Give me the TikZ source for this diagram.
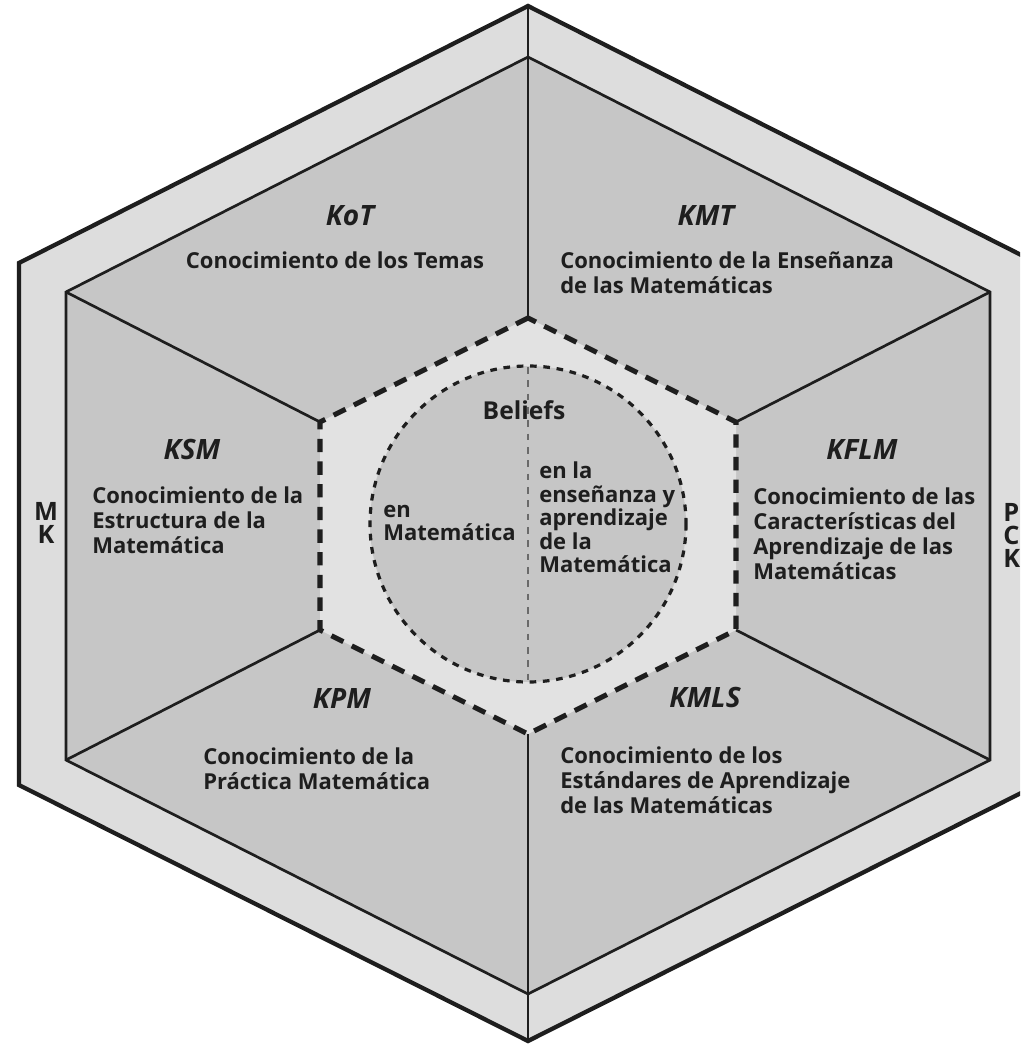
\documentclass[tikz,border=0pt]{standalone}
\usepackage{fontspec}
\setmainfont{Open Sans}
\definecolor{band}{HTML}{DDDDDD}
\definecolor{panel}{HTML}{C6C6C6}
\definecolor{core}{HTML}{E2E2E2}
\definecolor{ink}{HTML}{1E1E1E}
\definecolor{midgray}{HTML}{6A6A6A}
\begin{document}
\begin{tikzpicture}[x=0.75pt,y=-0.75pt,
  body/.style={font=\fontsize{16.5}{18.75}\selectfont\bfseries, text=ink, inner sep=0pt, align=left},
  head/.style={font=\fontsize{21}{24}\selectfont\bfseries\itshape, text=ink, inner sep=0pt},
  side/.style={font=\fontsize{19}{17.25}\selectfont\bfseries, text=ink, inner sep=0pt},
  hexline/.style={line width=2pt, draw=ink},
  outerline/.style={line width=3.2pt, draw=ink, line join=miter},
  corehex/.style={fill=core, draw=ink, line width=3.8pt, dash pattern=on 10pt off 7pt},
  corecircle/.style={fill=panel, draw=ink, line width=2.4pt, dash pattern=on 5pt off 5pt},
  splitline/.style={draw=midgray, line width=1.6pt, dash pattern=on 5pt off 5pt}]
\useasboundingbox (0,0) rectangle (1020,1044);
\fill[white] (0,0) rectangle (1020,1044);
\clip (0,0) rectangle (1020,1044);
% outer hexagon vertices
\coordinate (oT) at (528,6);
\coordinate (oUL) at (19,263);
\coordinate (oLL) at (19,785);
\coordinate (oB) at (528,1041);
\coordinate (oLR) at (1037,785);
\coordinate (oUR) at (1037,263);
% inner hexagon vertices
\coordinate (iT) at (528,57);
\coordinate (iUL) at (66,292);
\coordinate (iLL) at (66,760);
\coordinate (iB) at (528,994);
\coordinate (iLR) at (990,760);
\coordinate (iUR) at (990,292);
% core (dashed) hexagon vertices
\coordinate (cT) at (528,318);
\coordinate (cUL) at (320,422);
\coordinate (cLL) at (320,630);
\coordinate (cB) at (528,734);
\coordinate (cLR) at (736,630);
\coordinate (cUR) at (736,422);
% circle centre
\coordinate (cc) at (528,524);
% band
\filldraw[fill=band, outerline] (oT) -- (oUL) -- (oLL) -- (oB) -- (oLR) -- (oUR) -- cycle;
% panels
\filldraw[fill=panel, hexline] (iT) -- (iUL) -- (iLL) -- (iB) -- (iLR) -- (iUR) -- cycle;
% band dividers
\draw[hexline] (oT) -- (iT);
\draw[hexline] (oB) -- (iB);
% spokes
\draw[hexline] (iT) -- (cT);
\draw[hexline] (iUL) -- (cUL);
\draw[hexline] (iLL) -- (cLL);
\draw[hexline] (iB) -- (cB);
\draw[hexline] (iLR) -- (cLR);
\draw[hexline] (iUR) -- (cUR);
% core
\path[corehex] (cT) -- (cUL) -- (cLL) -- (cB) -- (cLR) -- (cUR) -- cycle;
\path[corecircle] (cc) circle[radius=158];
\coordinate (sTop) at (528,367);
\coordinate (sBot) at (528,681);
\draw[splitline] (sTop) -- (sBot);
% headings
\node[head] (kot) at (350,216) {KoT};
\node[head] (kmt) at (706,216) {KMT};
\node[head] (ksm) at (192,449) {KSM};
\node[head] (kflm) at (862,450) {KFLM};
\node[head] (kpm) at (342,698) {KPM};
\node[head] (kmls) at (705,697) {KMLS};
% descriptions
\node[body, anchor=north] (tkot) at (335,252) {Conocimiento de los Temas};
\node[body, anchor=north west] (tkmt) at (560,252) {Conocimiento de la Enseñanza\\de las Matemáticas};
\node[body, anchor=north west] (tksm) at (92,487) {Conocimiento de la\\Estructura de la\\Matemática};
\node[body, anchor=north west] (tkflm) at (753,488) {Conocimiento de las\\Características del\\Aprendizaje de las\\Matemáticas};
\node[body, anchor=north west] (tkpm) at (203,748) {Conocimiento de la\\Práctica Matemática};
\node[body, anchor=north west] (tkmls) at (560,747) {Conocimiento de los\\Estándares de Aprendizaje\\de las Matemáticas};
% beliefs
\node[font=\fontsize{18.5}{20}\selectfont\bfseries, text=ink, inner sep=0pt] (bel) at (524,410) {Beliefs};
\node[body, anchor=north west, font=\fontsize{16.5}{17.6}\selectfont\bfseries] (bmat) at (383,505) {en\\Matemática};
\node[body, anchor=north west, font=\fontsize{16.5}{17.6}\selectfont\bfseries] (bens) at (539,462) {en la\\enseñanza y\\aprendizaje\\de la\\Matemática};
% side letters
\node[side, align=center] (mk) at (46,523) {M\\K};
\node[side, align=left, anchor=west] (pck) at (1003,535) {P\\C\\K};
\end{tikzpicture}
\end{document}
